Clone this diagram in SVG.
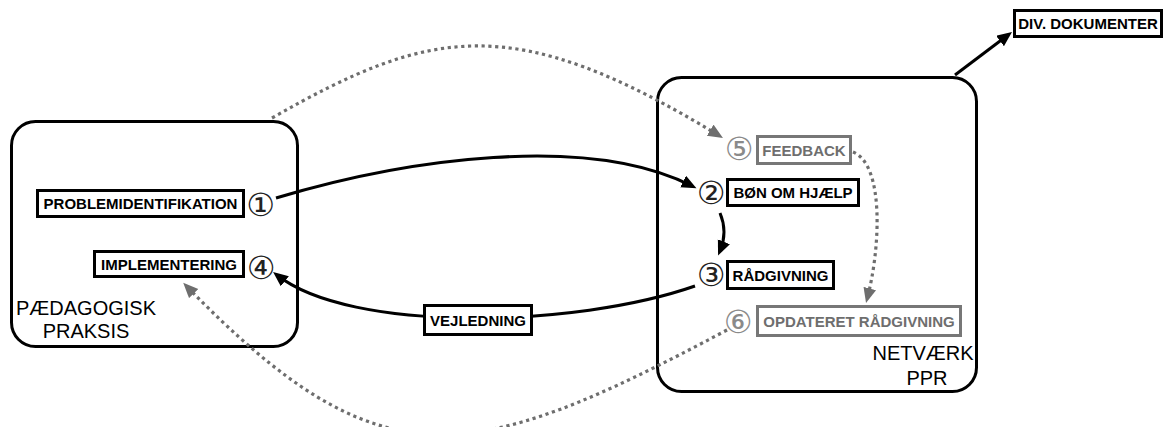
<svg xmlns="http://www.w3.org/2000/svg" width="1165" height="427" viewBox="0 0 1165 427">
<style>
.cont{fill:none;stroke:#000;stroke-width:3}
.box{fill:#fff;stroke:#000;stroke-width:3}
.gbox{fill:#fff;stroke:#777;stroke-width:3}
.lbl{font-family:"Liberation Sans",Arial,Helvetica,sans-serif;font-weight:bold;font-size:15px;fill:#000;text-anchor:middle}
.glbl{fill:#6e6e6e}
.big{font-family:"Liberation Sans",Arial,Helvetica,sans-serif;font-size:20px;fill:#000;text-anchor:middle}
.num{font-family:"DejaVu Sans",sans-serif;font-size:32px;fill:#222;text-anchor:middle;dominant-baseline:central}
.gnum{fill:#8a8a8a}
.solid{fill:none;stroke:#000;stroke-width:3}
.dot{fill:none;stroke:#6e6e6e;stroke-width:3.2;stroke-dasharray:3.2 3.6}
</style>
<defs>
<marker id="ab" markerUnits="userSpaceOnUse" markerWidth="16" markerHeight="14" refX="10" refY="6.5" orient="auto"><path d="M0,0 L15,6.5 L0,13 z" fill="#000"/></marker>
<marker id="ag" markerUnits="userSpaceOnUse" markerWidth="16" markerHeight="14" refX="10" refY="6.5" orient="auto"><path d="M0,0 L15,6.5 L0,13 z" fill="#6e6e6e"/></marker>
</defs>
<g id="paedagogisk-praksis">
<rect class="cont" x="11.5" y="121.5" width="286" height="225" rx="24"/>
<text class="big" x="86" y="315">PÆDAGOGISK</text>
<text class="big" x="86" y="338">PRAKSIS</text>
</g>
<g id="netvaerk-ppr">
<rect class="cont" x="657.5" y="77.5" width="319" height="314" rx="24"/>
<text class="big" x="923" y="360">NETVÆRK</text>
<text class="big" x="927" y="385">PPR</text>
</g>
<g id="connectors">
<path class="solid" d="M276,198 C406,159 587,133 692,186" marker-end="url(#ab)"/>
<path class="solid" d="M720,213 Q728,232 720,251" marker-end="url(#ab)"/>
<path class="solid" d="M695,286 C575,328 350,333 277,275" marker-end="url(#ab)"/>
<path class="solid" d="M955,75 L1008,35" marker-end="url(#ab)"/>
<path class="dot" d="M272,118 C430,28 513,10 718.7,135.4" marker-end="url(#ag)"/>
<path class="dot" d="M853,152 C885,165 880,250 867.3,298.2" marker-end="url(#ag)"/>
<path class="dot" d="M727,330 C468.5,467.5 380,485 186.7,286.4" marker-end="url(#ag)"/>
</g>
<g id="problemidentifikation">
<rect class="box" x="37.5" y="190.5" width="206" height="26"/>
<text class="lbl" x="140.5" y="209">PROBLEMIDENTIFIKATION</text>
<text class="num" x="260.5" y="205">①</text>
</g>
<g id="implementering">
<rect class="box" x="94.5" y="251.5" width="149" height="25"/>
<text class="lbl" x="169" y="269.5">IMPLEMENTERING</text>
<text class="num" x="261" y="268">④</text>
</g>
<g id="boen-om-hjaelp">
<rect class="box" x="727.5" y="179.5" width="131" height="26"/>
<text class="lbl" x="793" y="198">BØN OM HJÆLP</text>
<text class="num" x="711" y="192.5">②</text>
</g>
<g id="raadgivning">
<rect class="box" x="727.5" y="261.5" width="106" height="27"/>
<text class="lbl" x="780.5" y="280.5">RÅDGIVNING</text>
<text class="num" x="711" y="274.5">③</text>
</g>
<g id="feedback">
<rect class="gbox" x="757.5" y="136.5" width="93" height="27"/>
<text class="lbl glbl" x="804" y="155.5">FEEDBACK</text>
<text class="num gnum" x="739" y="149">⑤</text>
</g>
<g id="opdateret-raadgivning">
<rect class="gbox" x="757.5" y="306.5" width="203" height="29"/>
<text class="lbl glbl" x="859" y="326.5">OPDATERET RÅDGIVNING</text>
<text class="num gnum" x="738" y="322">⑥</text>
</g>
<g id="vejledning">
<rect class="box" x="424.5" y="305.5" width="107" height="29"/>
<text class="lbl" x="478" y="325.5">VEJLEDNING</text>
</g>
<g id="div-dokumenter">
<rect class="box" x="1014.5" y="10.5" width="147" height="26"/>
<text class="lbl" x="1088" y="29">DIV. DOKUMENTER</text>
</g>
</svg>
